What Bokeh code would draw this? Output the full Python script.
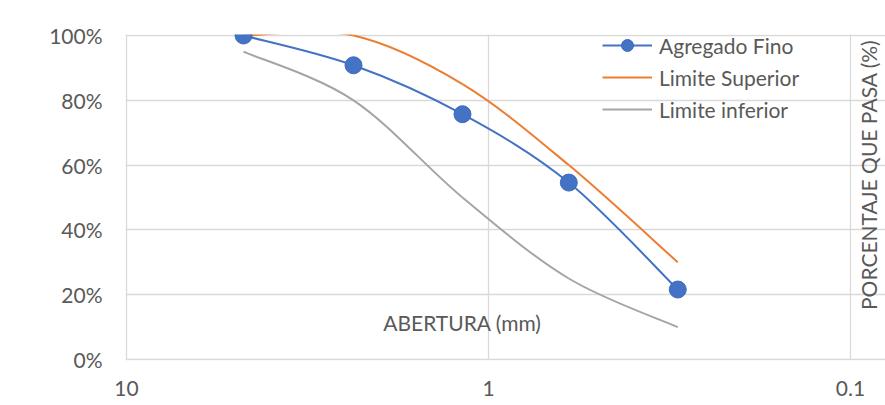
import numpy as np
from bokeh.plotting import figure
from bokeh.models import (Range1d, FixedTicker, CustomJSTickFormatter, PrintfTickFormatter,
                          Legend, LegendItem, Label, ColumnDataSource)
from bokeh.embed import file_html
from bokeh.resources import INLINE

# ---- data ----
aberturas = [4.75, 2.36, 1.18, 0.6, 0.3]
agregado_fino = [100, 90.8, 75.7, 54.6, 21.6]
limite_superior = [100, 100, 85, 60, 30]
limite_inferior = [95, 80, 50, 25, 10]
y_ticks = [0, 20, 40, 60, 80, 100]
x_ticks = [0.1, 1, 10]

FONT = "Lato"
FS = "21px"
TXT = "#595959"
GRID = "#D9D9D9"
BLUE = "#4472C4"
ORANGE = "#ED7D31"
GRAY = "#A5A5A5"

W, H = 885, 405
BOX_L, BOX_T, BOX_R, BOX_B = 126, 35, 850, 359   # the 10..0.1 / 0..100% box in pixels
PAD = 1                                          # keep the box edges inside the frame
px_dec = (BOX_R - BOX_L) / 2.0
px_pct = (BOX_B - BOX_T) / 100.0
x_start = 10 ** (1 + PAD / px_dec)
x_end = 10 ** (1 - (W - BOX_L) / px_dec)
y_start = -PAD / px_pct
y_end = 100 + PAD / px_pct


def smooth_source(xs, ys):
    """Bezier segments (Excel-like smoothing) computed in log10(x) space."""
    P = np.column_stack([np.log10(xs), np.asarray(ys, float)])
    ext = np.vstack([P[0], P, P[-1]])
    d = dict(x0=[], y0=[], x1=[], y1=[], cx0=[], cy0=[], cx1=[], cy1=[])
    for i in range(len(P) - 1):
        p0, p1, p2, p3 = ext[i], ext[i + 1], ext[i + 2], ext[i + 3]
        c1 = p1 + (p2 - p0) / 6.0
        c2 = p2 - (p3 - p1) / 6.0
        d["x0"].append(10 ** p1[0]); d["y0"].append(p1[1])
        d["x1"].append(10 ** p2[0]); d["y1"].append(p2[1])
        d["cx0"].append(10 ** c1[0]); d["cy0"].append(c1[1])
        d["cx1"].append(10 ** c2[0]); d["cy1"].append(c2[1])
    return ColumnDataSource(d)


p = figure(width=W, height=H, x_axis_type="log",
           x_range=Range1d(x_start, x_end), y_range=Range1d(y_start, y_end),
           output_backend="svg", toolbar_location=None,
           min_border_left=BOX_L - PAD, min_border_right=0,
           min_border_top=BOX_T - PAD, min_border_bottom=H - BOX_B - PAD)

p.background_fill_color = "white"
p.border_fill_color = "white"
p.outline_line_color = None

# axes
p.yaxis.ticker = FixedTicker(ticks=y_ticks)
p.yaxis.formatter = PrintfTickFormatter(format="%d%%")
p.xaxis.ticker = FixedTicker(ticks=x_ticks)
p.xaxis.formatter = CustomJSTickFormatter(code="return String(tick);")
for ax in (p.xaxis, p.yaxis):
    ax.axis_line_color = None
    ax.major_tick_line_color = None
    ax.minor_tick_line_color = None
    ax.major_tick_out = 0
    ax.major_tick_in = 0
    ax.minor_tick_out = 0
    ax.major_label_text_font = FONT
    ax.major_label_text_font_size = FS
    ax.major_label_text_color = TXT
p.yaxis.major_label_standoff = 23
p.xaxis.major_label_standoff = 20

# grid limited to the 10 .. 0.1 box (its edges act as the plot-area border)
p.xgrid.ticker = FixedTicker(ticks=x_ticks)
p.ygrid.ticker = FixedTicker(ticks=y_ticks)
p.xgrid.bounds = (0, 100)
p.ygrid.bounds = (0.1, 10)
p.grid.grid_line_color = GRID
p.grid.grid_line_width = 1.3

# smoothed lines
r_inf = p.bezier(source=smooth_source(aberturas, limite_inferior), x0="x0", y0="y0", x1="x1", y1="y1",
                 cx0="cx0", cy0="cy0", cx1="cx1", cy1="cy1", line_color=GRAY, line_width=2)
r_sup = p.bezier(source=smooth_source(aberturas, limite_superior), x0="x0", y0="y0", x1="x1", y1="y1",
                 cx0="cx0", cy0="cy0", cx1="cx1", cy1="cy1", line_color=ORANGE, line_width=2)
r_fino = p.bezier(source=smooth_source(aberturas, agregado_fino), x0="x0", y0="y0", x1="x1", y1="y1",
                  cx0="cx0", cy0="cy0", cx1="cx1", cy1="cy1", line_color=BLUE, line_width=2)
pts = p.scatter(aberturas, agregado_fino, size=17, fill_color=BLUE, line_color="#3F6BBB", line_width=1)

legend = Legend(items=[LegendItem(label="Agregado Fino", renderers=[r_fino, pts]),
                       LegendItem(label="Limite Superior", renderers=[r_sup]),
                       LegendItem(label="Limite inferior", renderers=[r_inf])],
                location=(477, 236), orientation="vertical")
legend.label_text_font = FONT
legend.label_text_font_size = FS
legend.label_text_color = TXT
legend.glyph_width = 50
legend.glyph_height = 30
legend.label_height = 20
legend.label_standoff = 7
legend.spacing = 2
legend.padding = 0
legend.margin = 0
legend.border_line_color = None
legend.background_fill_alpha = 0
p.add_layout(legend)

# axis titles placed like the original
p.add_layout(Label(x=1.18, y=11.4, text="ABERTURA (mm)", text_font=FONT, text_font_size=FS,
                   text_color=TXT, text_align="center", text_baseline="middle"))
p.add_layout(Label(x=0.0892, y=57, text="PORCENTAJE QUE PASA (%)", text_font=FONT,
                   text_font_size=FS, text_color=TXT, text_align="center",
                   text_baseline="middle", angle=np.pi / 2))

open("out.html", "w").write(file_html(p, INLINE))
